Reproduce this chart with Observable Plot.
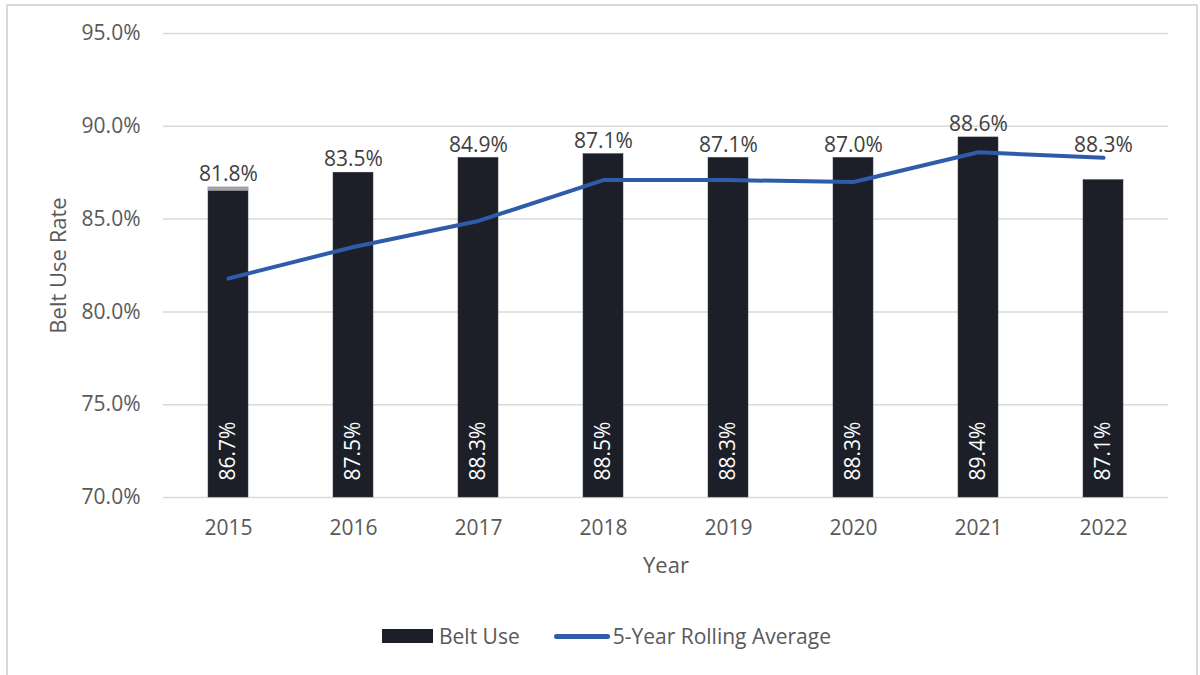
<!DOCTYPE html>
<html>
<head>
<meta charset="utf-8">
<script src="https://cdn.jsdelivr.net/npm/d3@7"></script>
<script src="https://cdn.jsdelivr.net/npm/@observablehq/plot@0.6"></script>
<style>
  html, body { margin: 0; padding: 0; background: #fff; }
  body { width: 1200px; height: 675px; position: relative; overflow: hidden; font-family: "Open Sans", sans-serif; }
  #frame { position: absolute; left: 6px; top: 4px; width: 1192px; height: 700px; border: 2px solid #d9d9d9; border-bottom: none; box-sizing: border-box; }
  #chart { position: absolute; left: 0; top: 0; }
  #legend { position: absolute; left: 382px; top: 621px; display: flex; align-items: center; font-size: 21px; color: #595959; white-space: nowrap; line-height: 30px; }
  .sw-bar { width: 51px; height: 14px; background: #1c1f27; }
  .sw-line { width: 56px; height: 5px; border-radius: 3px; background: #2e5caa; }
</style>
</head>
<body>
<div id="frame"></div>
<div id="chart"></div>
<div id="legend">
  <span class="sw-bar"></span><span style="margin-left:6px">Belt Use</span>
  <span class="sw-line" style="margin-left:34px"></span><span style="margin-left:3px">5-Year Rolling Average</span>
</div>
<script>
const years = ["2015", "2016", "2017", "2018", "2019", "2020", "2021", "2022"];
const beltUse = [86.7, 87.5, 88.3, 88.5, 88.3, 88.3, 89.4, 87.1];
const rollingAvg = [81.8, 83.5, 84.9, 87.1, 87.1, 87.0, 88.6, 88.3];
const capYears = ["2015"];
const capBase = [86.5];
const yTicks = [70, 75, 80, 85, 90, 95];

const data = years.map((year, i) => ({ year, belt: beltUse[i], avg: rollingAvg[i], top: Math.max(beltUse[i], rollingAvg[i]) }));
const caps = capYears.map((year, i) => ({ year, base: capBase[i], belt: beltUse[years.indexOf(year)] }));
const pct = v => v.toFixed(1) + "%";

const chart = Plot.plot({
  width: 1200,
  height: 600,
  marginLeft: 163,
  marginRight: 32,
  marginTop: 33,
  marginBottom: 103,
  style: { fontFamily: "Open Sans, sans-serif", background: "transparent" },
  x: { domain: years, paddingInner: 0.68, paddingOuter: 0.34, label: null },
  y: { domain: [70, 95], label: null },
  marks: [
    Plot.ruleY(yTicks, { stroke: "#d9d9d9", strokeWidth: 1.5 }),
    Plot.axisY({ ticks: yTicks, tickSize: 0, tickPadding: 23, tickFormat: pct, fontSize: 21, fill: "#595959", label: null }),
    Plot.axisX({ tickSize: 0, tickPadding: 23, fontSize: 21, fill: "#595959", label: null }),
    Plot.barY(data, { x: "year", y1: 70, y2: "belt", fill: "#1c1f27", stroke: "#3a3d44", strokeWidth: 0.5 }),
    Plot.barY(caps, { x: "year", y1: "base", y2: "belt", fill: "#a2a4a9" }),
    Plot.text(data, { x: "year", y: 70, text: d => pct(d.belt), rotate: -90, textAnchor: "start", dy: -17, fill: "#ffffff", fontSize: 21 }),
    Plot.lineY(data, { x: "year", y: "avg", stroke: "#2e5caa", strokeWidth: 4, strokeLinecap: "round" }),
    Plot.text(data, { x: "year", y: "top", text: d => pct(d.avg), dy: -13, fill: "#404040", fontSize: 21 }),
    Plot.text(["Belt Use Rate"], { frameAnchor: "left", dx: -105, rotate: -90, textAnchor: "middle", lineAnchor: "middle", fill: "#595959", fontSize: 22 }),
    Plot.text(["Year"], { frameAnchor: "bottom", dy: 68, textAnchor: "middle", lineAnchor: "middle", fill: "#595959", fontSize: 22 })
  ]
});
document.getElementById("chart").appendChild(chart);
</script>
</body>
</html>
